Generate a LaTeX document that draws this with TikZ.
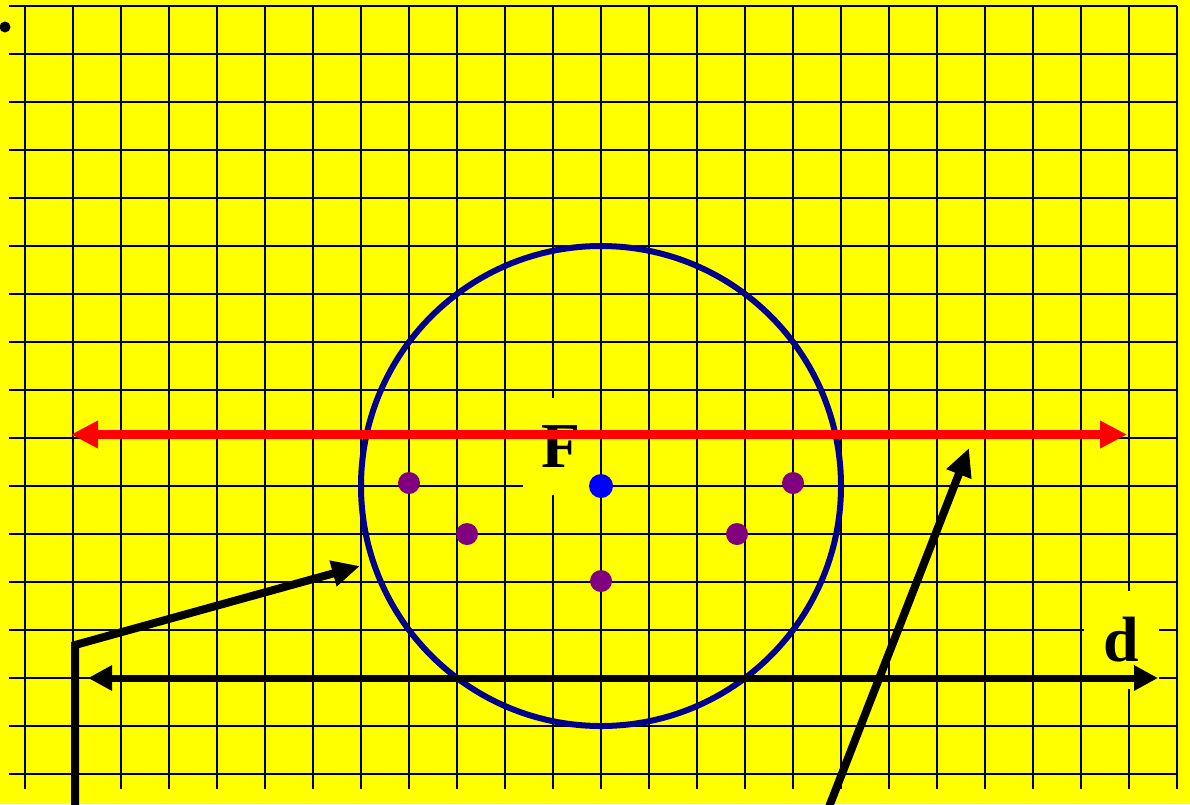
\documentclass[tikz,border=0pt]{standalone}
\usepackage{fontspec}
\setmainfont{Liberation Serif}
\usetikzlibrary{arrows.meta,positioning}
\definecolor{navy}{RGB}{0,0,140}
\definecolor{plum}{RGB}{128,0,128}
\definecolor{paper}{RGB}{255,255,0}
\definecolor{pure red}{RGB}{255,0,0}
\definecolor{pure blue}{RGB}{0,0,255}

\begin{document}
\begin{tikzpicture}
[x=1pt,y=-1pt, grid line/.style={line width=2pt,black},
  lbl node/.style={fill=paper,inner sep=0pt,outer sep=0pt,
    font=\fontsize{64}{64}\selectfont\bfseries},
  dot node/.style={circle,inner sep=0pt,outer sep=0pt,minimum size=22pt},
  big tip/.tip={Triangle[length=27pt,width=26pt]},
  mid tip/.tip={Triangle[length=24pt,width=24pt]},
  bent arrow/.style={line width=8pt,-{Triangle[length=28pt,width=25pt]}}]

    \fill[paper] (0,0) rectangle (1190,804);
    \useasboundingbox (0,0) rectangle (1190,804);

    % grid
    \foreach \k in {0,...,16}
      \draw[grid line] (9,6+48*\k) -- (1177,6+48*\k);
    \foreach \k in {0,...,24}
      \draw[grid line] (25+48*\k,6) -- (25+48*\k,789);

    \node [dot node, fill=black, minimum size=11pt] (corner) at (5,27) {};

    % labels
    \node [lbl node, minimum width=77pt, minimum height=97pt] (F) at (561.5,446.5) {F};
    \node [lbl node, minimum width=75pt, minimum height=98pt] (d) at (1121.5,640) {d};

    \node [circle, draw=navy, line width=6pt, minimum size=480pt, inner sep=0pt] (ring) at (601,486) {};

    \node [dot node, fill=pure blue, minimum size=24pt] (mid) at (601,486) {};
    \node [dot node, fill=plum] (q1) at (409,483) {};
    \node [dot node, fill=plum] (q2) at (467,534) {};
    \node [dot node, fill=plum] (q3) at (601,581) {};
    \node [dot node, fill=plum] (q4) at (737,534) {};
    \node [dot node, fill=plum] (q5) at (793,483) {};

    \coordinate (fl) at (71,434.5);
    \coordinate (fr) at (1127,434.5);
    \coordinate (dl) at (88,678);
    \coordinate (dr) at (1158,678);
    \coordinate (b0) at (75,812);
    \coordinate (b1) at (75,645);
    \coordinate (b2) at (360,566);
    \coordinate (s0) at (827,812);
    \coordinate (s1) at (969,448);

    \draw[pure red, line width=9pt, big tip-big tip] (fl) -- (fr);
    \draw[line width=7pt, mid tip-mid tip] (dl) -- (dr);
    \draw[bent arrow] (b0) -- (b1) -- (b2);
    \draw[bent arrow] (s0) -- (s1);
\end{tikzpicture}
\end{document}
